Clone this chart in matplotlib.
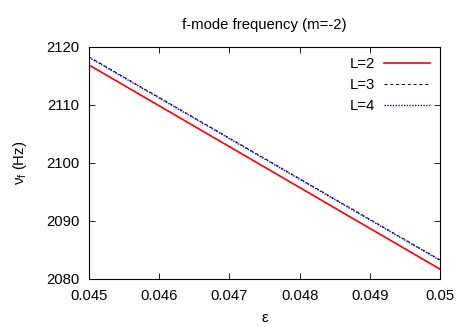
import numpy as np
import matplotlib
matplotlib.use('Agg')
import matplotlib.pyplot as plt

plt.rcParams['font.family'] = ['Liberation Sans', 'DejaVu Sans']

eps = [0.045, 0.0475, 0.05]
freq_L2 = [2116.9, 2099.3, 2081.7]
freq_L3 = [2118.3, 2100.8, 2083.3]
freq_L4 = [2118.2, 2100.7, 2083.2]

fig = plt.figure(figsize=(4.67, 3.27), dpi=100)
ax = fig.add_axes([89/467, 1-279/327, (440-89)/467, (279-47)/327])

ax.plot(eps, freq_L2, color='#ff0000', lw=1.2, label='L=2')
ax.plot(eps, freq_L3, color='black', lw=0.7, ls=(0, (3, 3)), label='L=3')
ax.plot(eps, freq_L4, color='#0000ff', lw=1.0, ls=(0, (1, 1)), label='L=4')

ax.set_xlim(0.045, 0.05)
ax.set_ylim(2080, 2120)
ax.set_xticks([0.045, 0.046, 0.047, 0.048, 0.049, 0.05])
ax.set_xticklabels(['0.045', '0.046', '0.047', '0.048', '0.049', '0.05'])
ax.set_yticks([2080, 2090, 2100, 2110, 2120])
ax.tick_params(direction='in', top=True, right=True, labelsize=10.7, length=4, width=0.6)
ax.tick_params(axis='y', pad=7)
ax.tick_params(axis='x', pad=7)
for s in ax.spines.values():
    s.set_linewidth(0.8)

ax.set_title('f-mode frequency (m=-2)', fontsize=10.7, pad=13)
ax.set_xlabel('ε', fontsize=10.7, labelpad=6)
ax.set_ylabel(r'$\mathregular{\nu_f}$ (Hz)', fontsize=10.7, labelpad=12)

ax.legend(loc='upper right', frameon=False, markerfirst=False, fontsize=10.7,
          handlelength=3.1, labelspacing=0.45, borderaxespad=0.3, handletextpad=0.6)

fig.savefig('out.png', dpi=100)
